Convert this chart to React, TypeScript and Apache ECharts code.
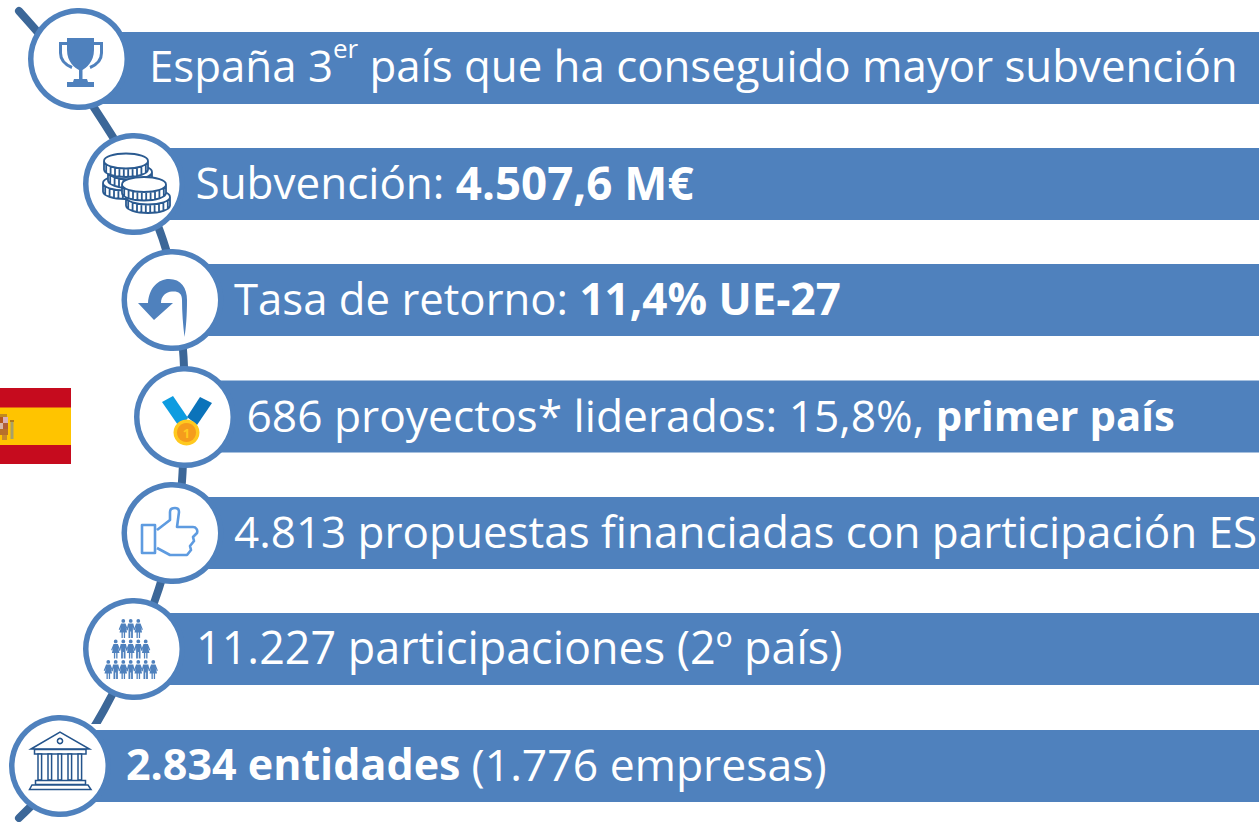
import React, { useEffect, useRef } from "react";
import * as echarts from "echarts";

const FONT = "'Open Sans', 'Noto Sans', sans-serif";
const BLUE = "#4F81BD";
const SPINE = "#3C6798";
const DARK = "#2A5A90";

// Each row of the list, as rich-text runs: n = normal, b = bold, s = superscript
const rowTexts = [
  "{n|España 3}{s|er}{n| país que ha conseguido mayor subvención}",
  "{n|Subvención: }{b|4.507,6 M€}",
  "{n|Tasa de retorno: }{b|11,4% UE-27}",
  "{n|686 proyectos* liderados: 15,8%, }{b|primer país}",
  "{n|4.813 propuestas financiadas con participación ES}",
  "{n|11.227 participaciones (2º país)}",
  "{b|2.834 entidades }{n|(1.776 empresas)}",
];
const rowCircleX = [79, 134, 172.5, 185, 172.5, 134, 60];
const rowCircleY = [59, 184, 300, 417, 533, 649, 766];
const rowBarY = [32, 148, 264, 380.5, 497, 613, 730];
const rowTextX = [149, 195.5, 234, 246.5, 234, 196, 126];
const rowTextY = [64.5, 181.5, 297.5, 414.5, 530.5, 646.5, 763.5];
const rowNormalSize = [43.8, 44, 43.7, 44.3, 44, 44.9, 44.5];
const rowBoldSize = [44, 45.7, 44, 41.8, 44, 44, 43];

function shape(name: string, d: string) {
  echarts.graphic.registerShape(name, echarts.graphic.extendPath(d, {}));
}

const TROPHY =
  "M67,38 H94 V50 C94,62 86,68 82.5,70 V79 H87 L88,82 H94 V87 H67 V82 H73 L74,79 H79 V70 C75,68 67,62 67,50 Z";
const TROPHY_HANDLES =
  "M67,43.5 H60.5 V53 C60.5,60 66,65 72,67.5 M94,43.5 H101.5 V53 C101.5,60 96,65 90,67.5";
const RETURN_ARROW =
  "M138,303 H148 C149,288 158,279 169,279 C181,279 187,288 187,300 C187,315 186,328 184.5,337 C183,325 182,312 182,300 C182,293 178,291 172,291.5 C166,292 161,296 161,303 H173 L154,320 Z";
const THUMB =
  "M142,525 H155 V553 H142 Z M157,530 L170,520 V512 C170,509 172,508 175,508 C178,508 179,510 179,512 L177,527 H193 C196,527 198,530 197,533 L193,537 L194,541 L190,546 L191,550 L187,555 H170 L157,548";
const PERSON_M =
  "M-1.9,1.9 A1.9,1.9 0 1 1 1.9,1.9 A1.9,1.9 0 1 1 -1.9,1.9 Z M-2.6,4.5 H2.6 L4.2,11 L3.2,11.4 L2.2,8 V19 H0.4 V12.5 H-0.4 V19 H-2.2 V8 L-3.2,11.4 L-4.2,11 Z";
const PERSON_F =
  "M-1.9,1.9 A1.9,1.9 0 1 1 1.9,1.9 A1.9,1.9 0 1 1 -1.9,1.9 Z M-2.2,4.5 H2.2 L4.6,10.5 L3.6,11 L2.4,8 L3.8,13.5 H1.8 V19 H0.5 V13.5 H-0.5 V19 H-1.8 V13.5 H-3.8 L-2.4,8 L-3.6,11 L-4.6,10.5 Z";

function coinPath(cx: number, cy: number) {
  const rx = 22;
  const ry = 7.5;
  const h = 8.5;
  let d = `M${cx - rx},${cy} V${cy + h} A${rx},${ry} 0 0 0 ${cx + rx},${cy + h} V${cy} A${rx},${ry} 0 0 0 ${cx - rx},${cy} Z `;
  d += `M${cx - rx},${cy} A${rx},${ry} 0 0 0 ${cx + rx},${cy} `;
  for (let t = -0.9; t <= 0.91; t += 0.2) {
    const x = cx + rx * t;
    const y = cy + ry * Math.sqrt(1 - t * t);
    d += `M${x},${y} V${y + h} `;
  }
  return d;
}
const COIN_CENTERS = [
  [125, 183],
  [130, 172],
  [126, 161],
  [148, 197],
  [144, 184.5],
];

function buildGraphics() {
  const out: any[] = [];
  out.push({
    type: "polyline",
    z: 1,
    shape: {
      points: [
        [19, 11],
        [60, 59],
        [104, 123],
        [140, 184],
        [169, 260],
        [183, 350],
        [184, 417],
        [180, 500],
        [155, 600],
        [104, 710],
        [60, 775],
        [19, 818],
      ],
      smooth: 0.3,
    },
    style: { stroke: SPINE, lineWidth: 8, fill: "none", lineCap: "round" },
  });

  rowBarY.forEach((y, i) => {
    out.push({
      type: "rect",
      z: 2,
      shape: { x: rowCircleX[i] - 6, y: y - 6, width: 1259, height: 78 },
      style: { fill: "#fff" },
    });
    out.push({
      type: "rect",
      z: 3,
      shape: { x: rowCircleX[i], y, width: 1259, height: 72 },
      style: { fill: BLUE },
    });
    out.push({
      type: "circle",
      z: 4,
      shape: { cx: rowCircleX[i], cy: rowCircleY[i], r: 48.25 },
      style: { fill: "#fff", stroke: BLUE, lineWidth: 5.5 },
    });
    out.push({
      type: "text",
      z: 5,
      x: rowTextX[i],
      y: rowTextY[i],
      style: {
        text: rowTexts[i],
        fill: "#fff",
        verticalAlign: "middle",
        align: "left",
        font: `44px ${FONT}`,
        rich: {
          n: { fontFamily: FONT, fontSize: rowNormalSize[i], fill: "#fff", lineHeight: 60 },
          b: { fontFamily: FONT, fontSize: rowBoldSize[i], fontWeight: "bold", fill: "#fff", lineHeight: 60 },
          s: { fontFamily: FONT, fontSize: 26, fill: "#fff", verticalAlign: "top", lineHeight: 48 },
        },
      },
    });
  });

  const Z = 6;
  out.push({ type: "trophy", z: Z, style: { fill: BLUE } });
  out.push({ type: "trophyHandles", z: Z, style: { fill: "none", stroke: BLUE, lineWidth: 3 } });

  COIN_CENTERS.forEach((c, i) => {
    out.push({
      type: "coin" + i,
      z: Z + i,
      style: { fill: "#fff", stroke: DARK, lineWidth: 1.8 },
    });
  });

  out.push({ type: "returnArrow", z: Z, style: { fill: BLUE } });

  out.push({
    type: "polygon",
    z: Z,
    shape: { points: [[162, 402], [173, 396], [188, 418], [180, 428]] },
    style: { fill: "#0E9CE0" },
  });
  out.push({
    type: "polygon",
    z: Z,
    shape: { points: [[200, 397], [212, 403], [197, 425], [187, 417]] },
    style: { fill: "#0B73BA" },
  });
  out.push({ type: "circle", z: Z + 1, shape: { cx: 186.5, cy: 432.5, r: 13 }, style: { fill: "#FFC91F" } });
  out.push({ type: "circle", z: Z + 2, shape: { cx: 186.5, cy: 432.5, r: 9.5 }, style: { fill: "#F59C1C" } });
  out.push({
    type: "text",
    z: Z + 3,
    x: 186.5,
    y: 432.5,
    style: { text: "1", fill: "#FFC91F", font: `bold 13px ${FONT}`, align: "center", verticalAlign: "middle" },
  });

  out.push({
    type: "thumb",
    z: Z,
    style: { fill: "none", stroke: "#5E9BE0", lineWidth: 2.6, lineJoin: "round" },
  });

  const rows = [
    { y: 619, xs: [123.3, 130.7, 138.3] },
    { y: 639.5, xs: [115.7, 123.3, 130.7, 138.3, 145.7] },
    { y: 660, xs: [108.3, 115.7, 123.3, 130.7, 138.3, 145.7, 153.3] },
  ];
  rows.forEach((r) =>
    r.xs.forEach((x, j) =>
      out.push({
        type: j % 2 === 0 ? "personF" : "personM",
        z: Z,
        x,
        y: r.y,
        style: { fill: BLUE },
      })
    )
  );

  const bStyle = { fill: "#fff", stroke: "#24548C", lineWidth: 1.5 };
  out.push({ type: "polygon", z: Z, shape: { points: [[31, 749], [60, 732], [89.5, 749]] }, style: bStyle });
  out.push({ type: "circle", z: Z, shape: { cx: 60, cy: 741, r: 2.6 }, style: bStyle });
  out.push({ type: "rect", z: Z, shape: { x: 34.5, y: 749.5, width: 51.5, height: 4.5 }, style: bStyle });
  [38, 48, 58, 68, 78].forEach((x) => {
    out.push({ type: "rect", z: Z, shape: { x, y: 754, width: 3.6, height: 26 }, style: bStyle });
  });
  out.push({ type: "rect", z: Z, shape: { x: 35.5, y: 780.5, width: 50, height: 4 }, style: bStyle });
  out.push({ type: "polygon", z: Z, shape: { points: [[32, 785], [88, 785], [91, 789.5], [29.5, 789.5]] }, style: bStyle });

  // Flag
  out.push({ type: "rect", z: 2, shape: { x: 0, y: 388, width: 71, height: 76 }, style: { fill: "#C60B1E" } });
  out.push({ type: "rect", z: 2, shape: { x: 0, y: 407.5, width: 71, height: 37.5 }, style: { fill: "#FFC400" } });
  const crest: [number, number, number, number, string][] = [
    [0, 414, 7, 3, "#C08A20"],
    [0, 417, 3, 6, "#B5581E"],
    [3, 417, 5, 6, "#D8B0B8"],
    [0, 423, 3, 6, "#D8B8A8"],
    [3, 423, 5, 6, "#B0603A"],
    [0, 429, 8, 6, "#B8702A"],
    [2, 435, 5, 5, "#C88A2A"],
    [10, 420, 4, 2, "#B07A1C"],
    [10.5, 422, 3, 17, "#A8A068"],
  ];
  crest.forEach(([x, y, width, height, fill]) =>
    out.push({ type: "rect", z: 3, shape: { x, y, width, height }, style: { fill } })
  );
  return out;
}

export default function App() {
  const ref = useRef<HTMLDivElement>(null);
  useEffect(() => {
    document.body.style.margin = "0";
    document.body.style.overflow = "hidden";
    shape("trophy", TROPHY);
    shape("trophyHandles", TROPHY_HANDLES);
    shape("returnArrow", RETURN_ARROW);
    shape("thumb", THUMB);
    shape("personM", PERSON_M);
    shape("personF", PERSON_F);
    COIN_CENTERS.forEach((c, i) => shape("coin" + i, coinPath(c[0], c[1])));
    const chart = echarts.init(ref.current!, null, { renderer: "svg" });
    chart.setOption({
      animation: false,
      backgroundColor: "#fff",
      graphic: { elements: buildGraphics() },
    });
    return () => chart.dispose();
  }, []);
  return <div ref={ref} style={{ width: 1259, height: 822 }} />;
}
